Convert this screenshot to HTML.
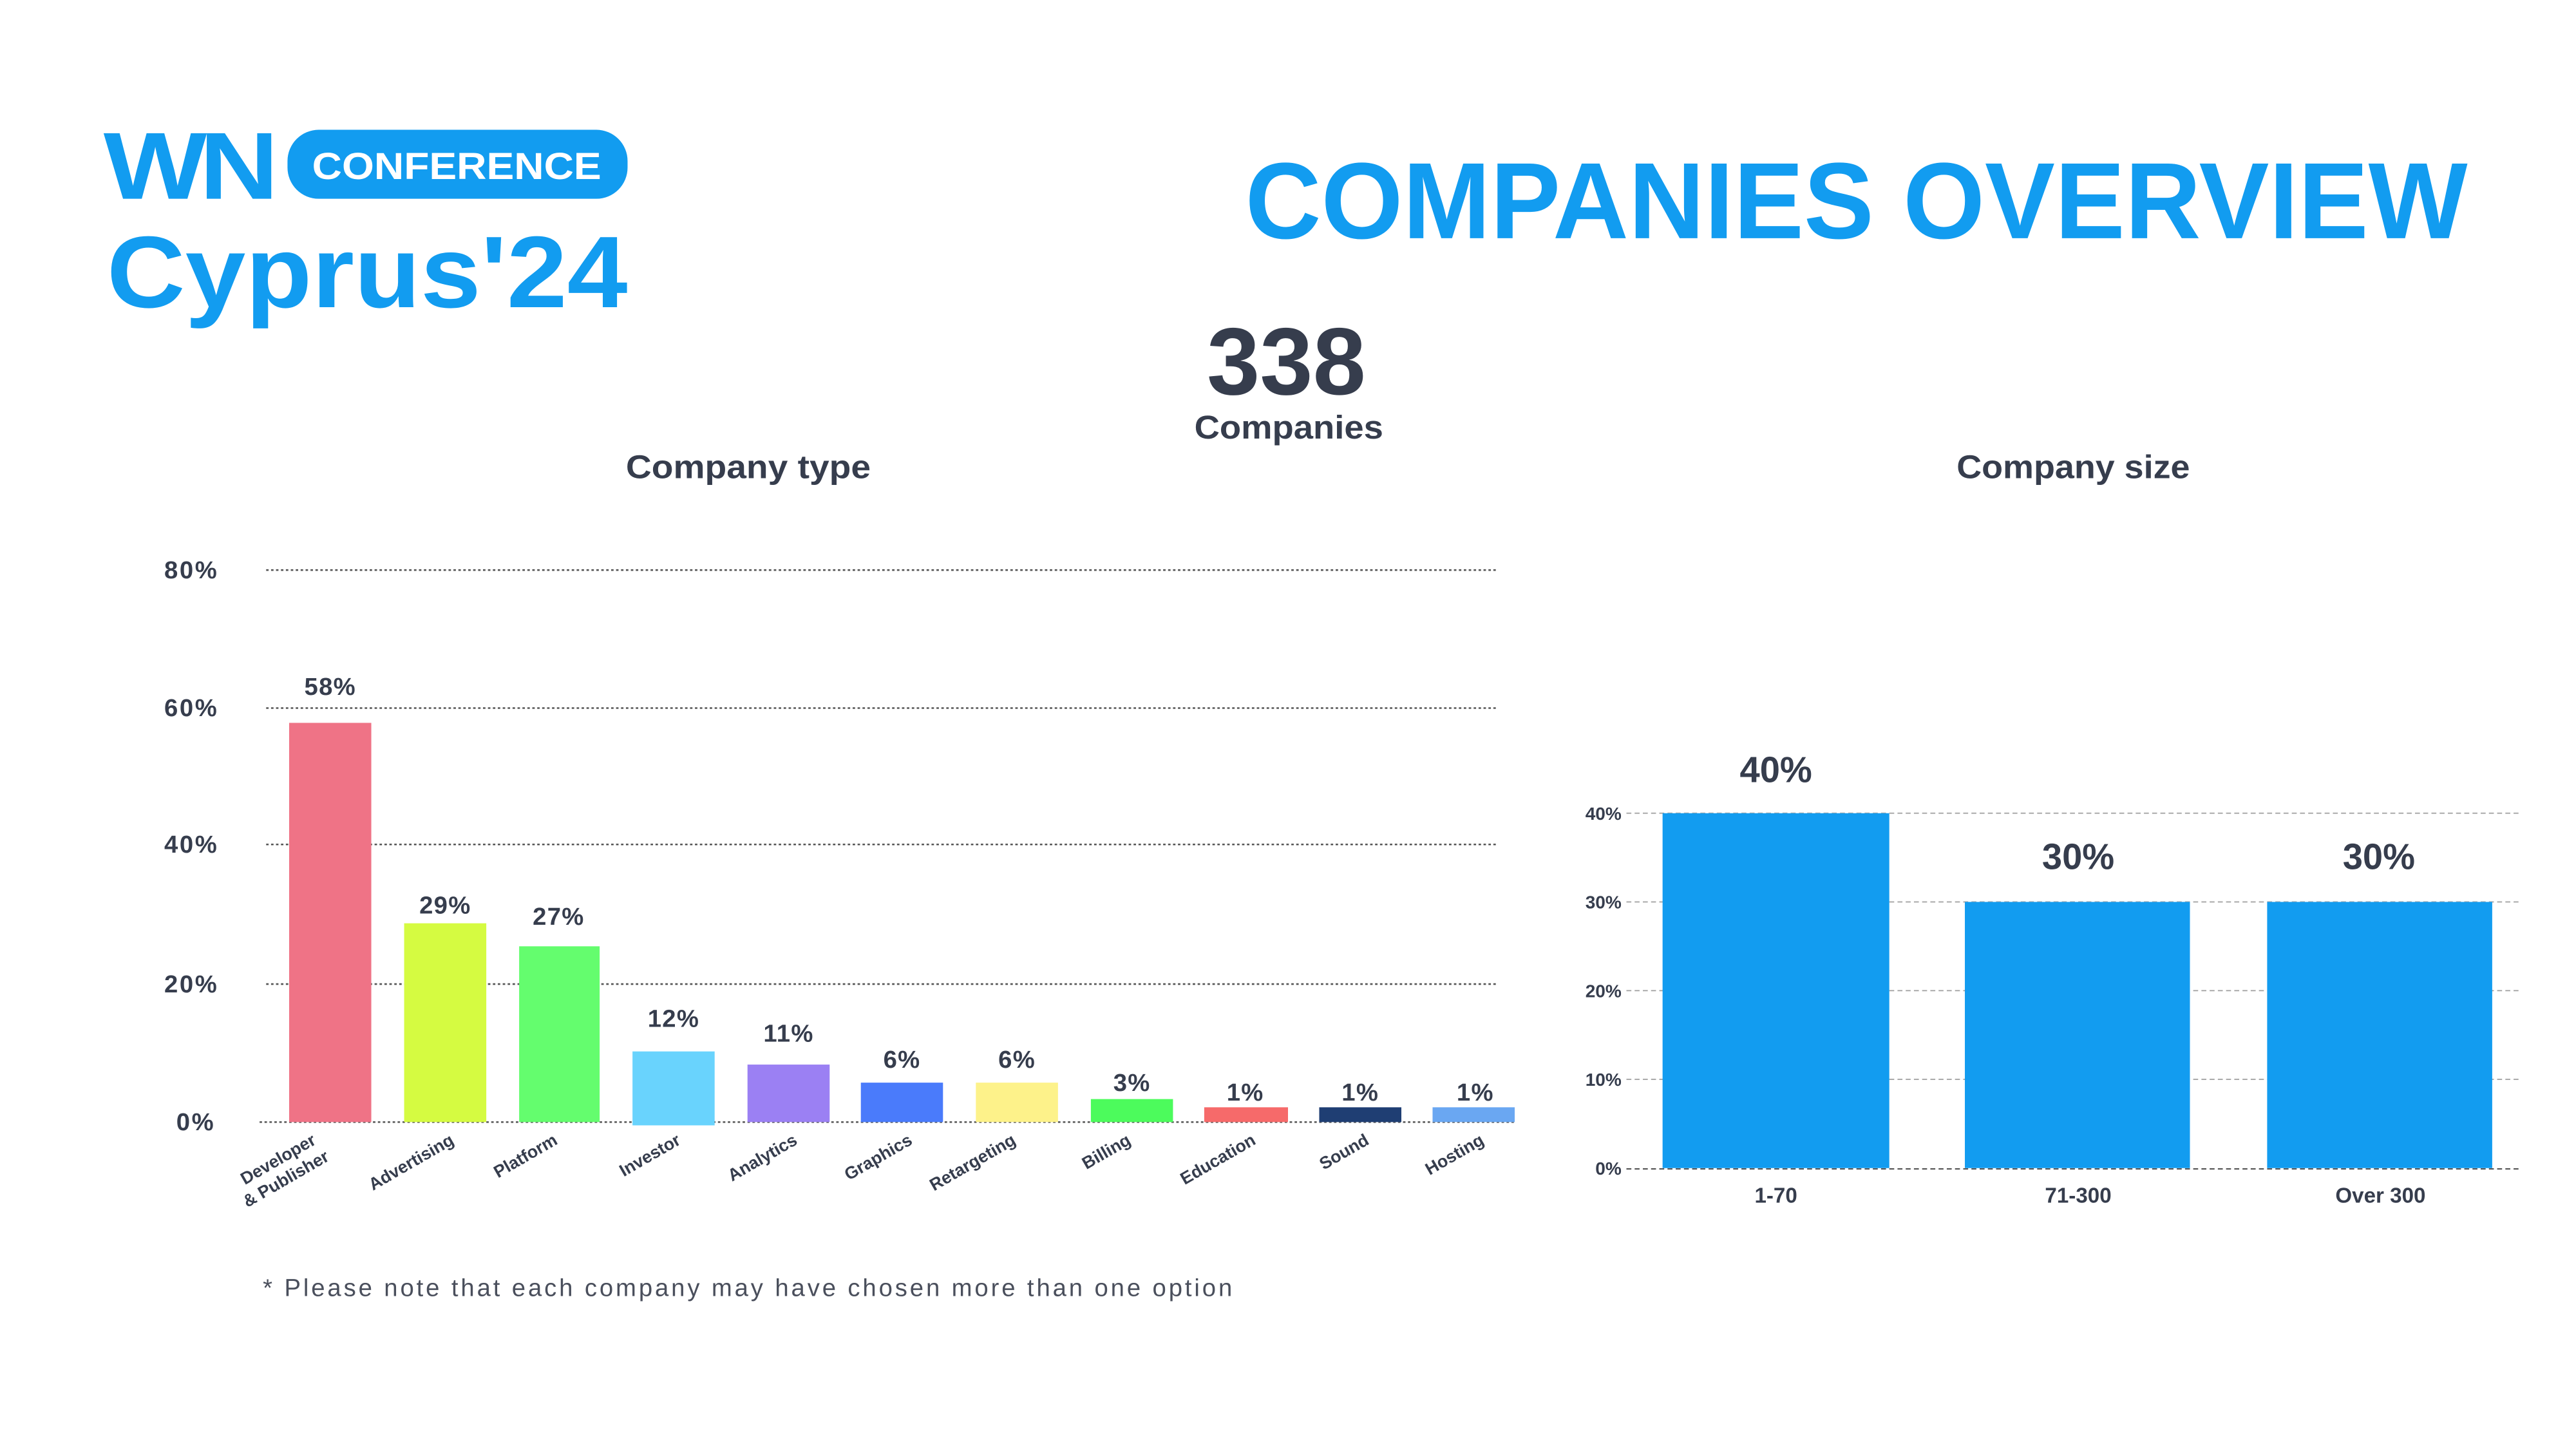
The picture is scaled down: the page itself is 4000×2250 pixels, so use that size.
<!DOCTYPE html>
<html><head><meta charset="utf-8"><style>
html,body{margin:0;padding:0;background:#fff;}
svg{display:block;}
text{font-family:"Liberation Sans",sans-serif;}
</style></head><body>
<svg width="4000" height="2250" viewBox="0 0 1568 882" xmlns="http://www.w3.org/2000/svg">
<rect width="1568" height="882" fill="#fff"/>
<!-- Logo -->
<text x="63" y="121" font-size="58" font-weight="bold" fill="#129cf0" letter-spacing="-4" textLength="102" lengthAdjust="spacingAndGlyphs">WN</text>
<rect x="175" y="79" width="207" height="42" rx="19" fill="#129cf0"/>
<text x="278" y="109" font-size="23" font-weight="bold" fill="#fff" text-anchor="middle" textLength="176" lengthAdjust="spacingAndGlyphs">CONFERENCE</text>
<text x="65" y="187" font-size="62" font-weight="bold" fill="#129cf0" textLength="317" lengthAdjust="spacingAndGlyphs">Cyprus'24</text>
<text x="758" y="145" font-size="66" font-weight="bold" fill="#129cf0" textLength="744" lengthAdjust="spacingAndGlyphs">COMPANIES OVERVIEW</text>
<text x="783" y="240" font-size="58" font-weight="bold" fill="#363d4d" text-anchor="middle">338</text>
<text x="727" y="267" font-size="20" font-weight="bold" fill="#363d4d" textLength="115" lengthAdjust="spacingAndGlyphs">Companies</text>
<text x="381" y="291" font-size="20" font-weight="bold" fill="#363d4d" textLength="149" lengthAdjust="spacingAndGlyphs">Company type</text>
<text x="1191" y="291" font-size="20" font-weight="bold" fill="#363d4d" textLength="142" lengthAdjust="spacingAndGlyphs">Company size</text>
<!-- Left chart grid -->
<g stroke="#555" stroke-width="1" stroke-dasharray="1.5,1.5">
<line x1="162" y1="347" x2="912" y2="347"/>
<line x1="162" y1="431" x2="912" y2="431"/>
<line x1="162" y1="514" x2="912" y2="514"/>
<line x1="162" y1="599" x2="912" y2="599"/>
<line x1="158" y1="683" x2="922" y2="683"/>
</g>
<g font-size="15" font-weight="bold" fill="#363d4d" text-anchor="end" letter-spacing="1">
<text x="133" y="352">80%</text>
<text x="133" y="436">60%</text>
<text x="133" y="519">40%</text>
<text x="133" y="604">20%</text>
<text x="131" y="688">0%</text>
</g>
<!-- bars -->
<rect x="176" y="440" width="50" height="243" fill="#ef7386"/>
<rect x="246" y="562" width="50" height="121" fill="#d5fb41"/>
<rect x="316" y="576" width="49" height="107" fill="#64fd6e"/>
<rect x="385" y="640" width="50" height="45" fill="#69d3fd"/>
<rect x="455" y="648" width="50" height="35" fill="#9b80f3"/>
<rect x="524" y="659" width="50" height="24" fill="#4a7bfb"/>
<rect x="594" y="659" width="50" height="24" fill="#fdf28a"/>
<rect x="664" y="669" width="50" height="14" fill="#4cfb5c"/>
<rect x="733" y="674" width="51" height="9" fill="#f66a6a"/>
<rect x="803" y="674" width="50" height="9" fill="#1f3e73"/>
<rect x="872" y="674" width="50" height="9" fill="#6aa7f2"/>
<g font-size="15" font-weight="bold" fill="#363d4d" text-anchor="middle" letter-spacing="0.5">
<text x="201" y="423">58%</text>
<text x="271" y="556">29%</text>
<text x="340" y="563">27%</text>
<text x="410" y="625">12%</text>
<text x="480" y="634">11%</text>
<text x="549" y="650">6%</text>
<text x="619" y="650">6%</text>
<text x="689" y="664">3%</text>
<text x="758" y="670">1%</text>
<text x="828" y="670">1%</text>
<text x="898" y="670">1%</text>
</g>
<g font-size="10.5" font-weight="bold" fill="#363d4d" text-anchor="end">
<text transform="translate(193,696) rotate(-30)">Developer</text>
<text transform="translate(201,706) rotate(-30)">&amp; Publisher</text>
<text transform="translate(277,696) rotate(-30)">Advertising</text>
<text transform="translate(340,696) rotate(-30)">Platform</text>
<text transform="translate(415,696) rotate(-30)">Investor</text>
<text transform="translate(486,696) rotate(-30)">Analytics</text>
<text transform="translate(556,696) rotate(-30)">Graphics</text>
<text transform="translate(619,696) rotate(-30)">Retargeting</text>
<text transform="translate(689,696) rotate(-30)">Billing</text>
<text transform="translate(765,696) rotate(-30)">Education</text>
<text transform="translate(834,696) rotate(-30)">Sound</text>
<text transform="translate(904,696) rotate(-30)">Hosting</text>
</g>
<text x="160" y="789" font-size="15" fill="#4a4f5c" textLength="590" lengthAdjust="spacing">* Please note that each company may have chosen more than one option</text>
<!-- Right chart -->
<g stroke="#aaa" stroke-width="0.8" stroke-dasharray="3,2">
<line x1="990" y1="495" x2="1533" y2="495"/>
<line x1="990" y1="549" x2="1533" y2="549"/>
<line x1="990" y1="603" x2="1533" y2="603"/>
<line x1="990" y1="657" x2="1533" y2="657"/>
</g>
<line x1="990" y1="711.5" x2="1533" y2="711.5" stroke="#555" stroke-width="0.8" stroke-dasharray="3,2"/>
<g font-size="11" font-weight="bold" fill="#363d4d" text-anchor="end">
<text x="987" y="499">40%</text>
<text x="987" y="553">30%</text>
<text x="987" y="607">20%</text>
<text x="987" y="661">10%</text>
<text x="987" y="715">0%</text>
</g>
<rect x="1012" y="495" width="138" height="216" fill="#129cf0"/>
<rect x="1196" y="549" width="137" height="162" fill="#129cf0"/>
<rect x="1380" y="549" width="137" height="162" fill="#129cf0"/>
<g font-size="22" font-weight="bold" fill="#363d4d" text-anchor="middle">
<text x="1081" y="476">40%</text>
<text x="1265" y="529">30%</text>
<text x="1448" y="529">30%</text>
</g>
<g font-size="13" font-weight="bold" fill="#363d4d" text-anchor="middle">
<text x="1081" y="732">1-70</text>
<text x="1265" y="732">71-300</text>
<text x="1449" y="732">Over 300</text>
</g>
</svg>
</body></html>
